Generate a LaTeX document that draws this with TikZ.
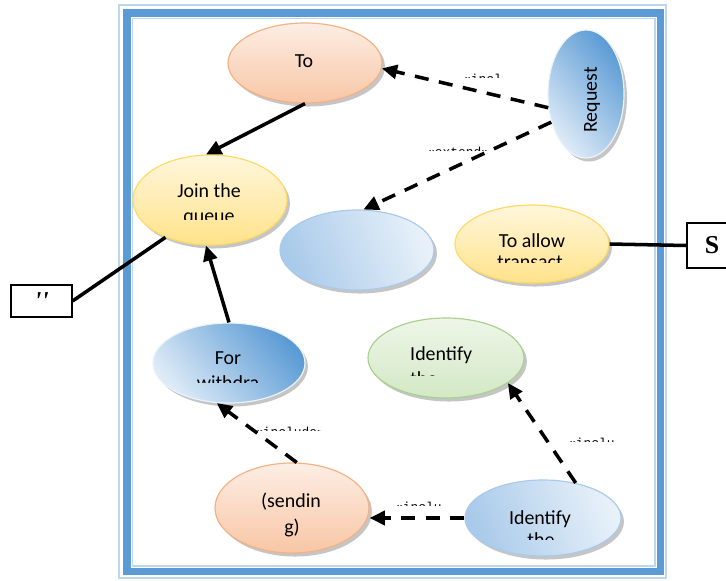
\documentclass[tikz,border=0pt]{standalone}
\usepackage{fontspec}
\setmainfont{Carlito}
\newfontfamily\actorfont{Liberation Serif}
\newfontfamily\stereofont{Liberation Mono}
\usetikzlibrary{shapes.geometric,shadows,arrows.meta}

\definecolor{frameblue}{HTML}{5B9BD5}
\definecolor{framelight}{HTML}{BDD7EE}
\definecolor{peachline}{HTML}{F4B183}
\definecolor{peachtop}{HTML}{FDEEE4}
\definecolor{peachbot}{HTML}{F8C6A5}
\definecolor{goldline}{HTML}{FFD966}
\definecolor{goldtop}{HTML}{FFF7DC}
\definecolor{goldbot}{HTML}{FFE28A}
\definecolor{leafline}{HTML}{A9D18E}
\definecolor{leaftop}{HTML}{EEF6E8}
\definecolor{leafbot}{HTML}{D3E8C5}
\definecolor{skydark}{HTML}{5B9BD5}
\definecolor{skylight}{HTML}{DEEBF7}
\definecolor{skymid}{HTML}{A9CAEA}

% one line of text that is cut off by a box
\newcommand{\cutlabel}[6][]{%
  \begin{scope}
    \clip (#3) rectangle (#4);
    \node[#1] (#2) at (#5) {#6};
  \end{scope}}

\begin{document}
\begin{tikzpicture}[x=0.03cm,y=-0.03cm,
  ucase/.style={ellipse, line width=1pt, inner sep=0pt,
    minimum width=4.62cm, minimum height=2.4cm,
    drop shadow={shadow xshift=2.5pt, shadow yshift=-3pt, fill=black!45, opacity=.5}},
  peachcase/.style={ucase, draw=peachline, top color=peachtop, bottom color=peachbot},
  goldcase/.style={ucase, draw=goldline, top color=goldtop, bottom color=goldbot},
  leafcase/.style={ucase, draw=leafline, top color=leaftop, bottom color=leafbot},
  darkcase/.style={ucase, draw=skylight!60!white, top color=skydark, bottom color=skylight, shading angle=-50},
  palecase/.style={ucase, draw=skymid, top color=skylight!70!white, bottom color=skymid, shading angle=-70},
  lbl/.style={font=\fontsize{17}{20}\selectfont, anchor=base, inner sep=0pt},
  stereo/.style={font=\stereofont\fontsize{11}{13}\selectfont, anchor=base west, inner sep=0pt},
  actor/.style={draw, line width=1pt, inner sep=0pt, font=\actorfont\bfseries\fontsize{22}{24}\selectfont},
  solidarrow/.style={line width=3pt, -{Triangle[length=13pt,width=12pt]}},
  dasharrow/.style={solidarrow, dash pattern=on 12pt off 9pt},
  thickline/.style={line width=3pt}]
\clip (0,0) rectangle (726,580);

% frame of the system
\draw[framelight, line width=1pt] (119,5) rectangle (666,578);
\draw[frameblue, line width=6.5pt] (127,13) rectangle (660.5,571.5);
\draw[framelight, line width=1pt] (132.5,18.5) rectangle (655,566);

% use cases
\node[peachcase] (to) at (305,63) {};
\node[darkcase, minimum width=2.28cm, minimum height=3.84cm] (request) at (586,94) {};
\node[goldcase, minimum height=2.7cm] (join) at (210,200) {};
\node[palecase] (blank) at (357,250) {};
\node[goldcase, minimum height=2.34cm] (allow) at (532,244) {};
\node[darkcase, minimum width=4.56cm] (for) at (229,363) {};
\node[leafcase, minimum width=4.68cm] (identg) at (446,358) {};
\node[peachcase, minimum height=2.7cm] (sending) at (292,508) {};
\node[palecase, minimum width=4.68cm, minimum height=2.28cm] (ident) at (543,518) {};

% actors
\node[actor, minimum width=1.83cm, minimum height=0.96cm] (quote) at (41.5,301) {\itshape ''};
\node[actor, minimum width=1.5cm, minimum height=1.35cm] (sbox) at (712,245.5) {S};

% texts of the use cases
\node[lbl] (totext) at (304,67) {To};
\node[lbl, anchor=center, rotate=90] (requesttext) at (592,100) {Request};
\node[lbl] (jointext) at (209,197) {Join the};
\cutlabel[lbl]{queuetext}{150,205}{270,219}{209,222}{queue}
\node[lbl] (allowtext) at (532,247) {To allow};
\cutlabel[lbl]{transtext}{470,250}{600,262}{530,268}{transact}
\node[lbl] (fortext) at (228,364) {For};
\cutlabel[lbl]{withtext}{170,370}{290,382}{228,389}{withdra}
\node[lbl, anchor=base west] (identgtext) at (410,360) {Identify};
\cutlabel[lbl, anchor=base west]{thegtext}{400,365}{480,375}{410,385}{the}
\node[lbl] (sendtext) at (291,507) {(sendin};
\node[lbl] (gtext) at (292,533) {g)};
\node[lbl] (identtext) at (540,524) {Identify};
\cutlabel[lbl]{thetext}{510,528}{570,539}{541,546}{the}

% stereotypes
\cutlabel[stereo]{inca}{460,60}{502,77}{463,83}{«include»}
\cutlabel[stereo]{exta}{424,135}{498,150}{427,156}{«extend»}
\cutlabel[stereo]{incb}{252,415}{320,430}{255,436}{«include»}
\cutlabel[stereo]{incc}{565,428}{614,441}{568,447}{«include»}
\cutlabel[stereo]{incd}{392,495}{440,505}{395,511}{«include»}

% connectors
\draw[solidarrow] (to.south) -- (join.95);
\draw[thickline] (join.220) -- (quote.east);
\draw[solidarrow] (for.north) -- (join.-95);
\draw[dasharrow] (request.200) -- (to.-4);
\draw[dasharrow] (request.219) -- (blank.81);
\draw[thickline] (allow.east) -- (sbox.west);
\draw[dasharrow] (sending.84) -- (for.253);
\draw[dasharrow] (ident.47) -- (identg.-22);
\draw[dasharrow] (ident.west) -- (sending.east |- ident.west);
\end{tikzpicture}
\end{document}
